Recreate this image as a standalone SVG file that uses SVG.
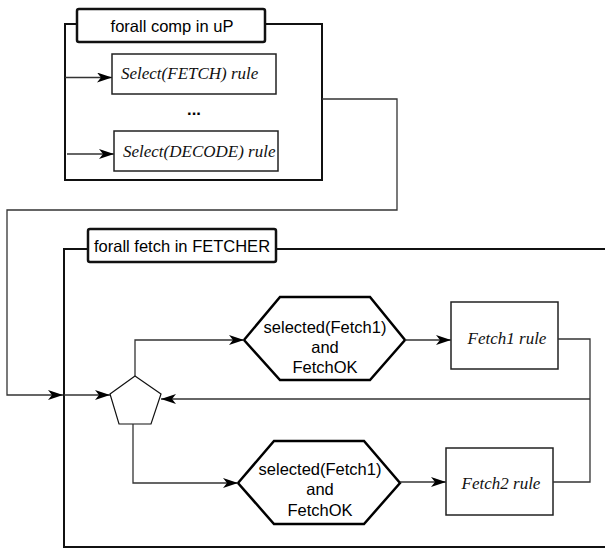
<svg xmlns="http://www.w3.org/2000/svg" width="605" height="549" viewBox="0 0 605 549">
<style>
.frame{fill:none;stroke:#111;stroke-width:2}
.title{fill:#fff;stroke:#111;stroke-width:2.5}
.box{fill:#fff;stroke:#222;stroke-width:1.5}
.hex{fill:#fff;stroke:#000;stroke-width:2.5}
.pent{fill:#fff;stroke:#111;stroke-width:1.2}
.conn{fill:none;stroke:#333;stroke-width:1.3}
.sans{font-family:"Liberation Sans",Arial,sans-serif;font-size:16.5px;fill:#000}
.ital{font-family:"Liberation Serif","Times New Roman",serif;font-style:italic;font-size:17px;fill:#111}
</style>
<defs>
<marker id="arr" viewBox="0 0 15 10" refX="15" refY="5" markerWidth="15" markerHeight="10" orient="auto" markerUnits="userSpaceOnUse">
<path d="M0,0 L15,5 L0,10 L4,5 z" fill="#000"/>
</marker>
</defs>

<g id="frame-comp">
<polyline class="frame" points="77,24 65,24 65,180 322,180 322,24 265,24"/>
<rect class="title" x="77" y="9" width="188" height="33" rx="2"/>
<text class="sans" x="172" y="32" text-anchor="middle">forall comp in uP</text>
</g>

<g id="select-fetch">
<rect class="box" x="112" y="54" width="164" height="40"/>
<text class="ital" x="121" y="79">Select(FETCH) rule</text>
</g>

<g id="dots">
<text class="sans" x="194" y="115" text-anchor="middle" font-weight="bold">...</text>
</g>

<g id="select-decode">
<rect class="box" x="114" y="131" width="164" height="40"/>
<text class="ital" x="123" y="157">Select(DECODE) rule</text>
</g>

<g id="frame-fetch">
<polyline class="frame" points="88,249 64,249 64,547 605,547"/>
<line class="frame" x1="276" y1="249" x2="605" y2="249"/>
<rect class="title" x="88" y="229" width="188" height="33" rx="2"/>
<text class="sans" x="94" y="252">forall fetch in FETCHER</text>
</g>

<g id="pentagon">
<polygon class="pent" points="135,376 161,394 151,424 119,424 110,394"/>
</g>

<g id="cond1">
<polygon class="hex" points="244,340 280,297 370,297 405,340 370,380 280,380"/>
<text class="sans" x="325" y="333" text-anchor="middle">selected(Fetch1)</text>
<text class="sans" x="325" y="353" text-anchor="middle">and</text>
<text class="sans" x="325" y="373" text-anchor="middle">FetchOK</text>
</g>

<g id="fetch1">
<rect class="box" x="451" y="302" width="107" height="67"/>
<text class="ital" x="507" y="344" text-anchor="middle">Fetch1 rule</text>
</g>

<g id="cond2">
<polygon class="hex" points="238,483 274,441 364,441 400,483 364,524 274,524"/>
<text class="sans" x="320" y="475" text-anchor="middle">selected(Fetch1)</text>
<text class="sans" x="320" y="495" text-anchor="middle">and</text>
<text class="sans" x="320" y="516" text-anchor="middle">FetchOK</text>
</g>

<g id="fetch2">
<rect class="box" x="446" y="448" width="107" height="67"/>
<text class="ital" x="501" y="489" text-anchor="middle">Fetch2 rule</text>
</g>

<g id="connectors">
<line class="conn" x1="65" y1="77.5" x2="112" y2="77.5" marker-end="url(#arr)"/>
<line class="conn" x1="67" y1="154" x2="114" y2="154" marker-end="url(#arr)"/>
<polyline class="conn" points="322,99 397,99 397,210 7,210 7,395 63,395" marker-end="url(#arr)"/>
<line class="conn" x1="64" y1="395" x2="110" y2="395" marker-end="url(#arr)"/>
<polyline class="conn" points="135,376 135,340 244,340" marker-end="url(#arr)"/>
<polyline class="conn" points="133,424 133,483 238,483" marker-end="url(#arr)"/>
<line class="conn" x1="405" y1="340" x2="451" y2="340" marker-end="url(#arr)"/>
<line class="conn" x1="400" y1="482" x2="446" y2="482" marker-end="url(#arr)"/>
<polyline class="conn" points="558,339 590,339 590,482 553,482"/>
<line class="conn" x1="590" y1="399" x2="161" y2="399" marker-end="url(#arr)"/>
</g>
</svg>
